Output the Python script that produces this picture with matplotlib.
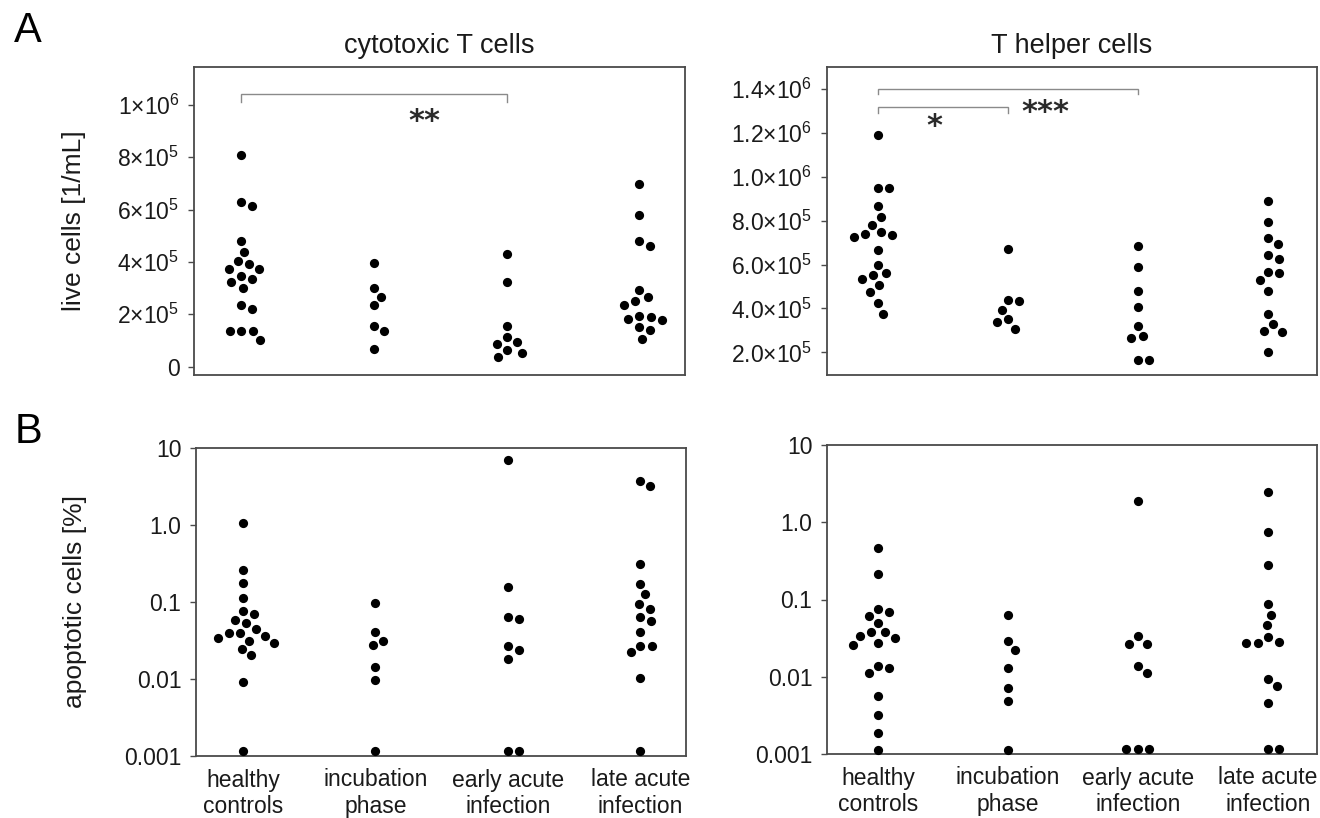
import numpy as np
import matplotlib
matplotlib.use("Agg")
import matplotlib.pyplot as plt

plt.rcParams['font.family'] = ['Liberation Sans', 'DejaVu Sans']
plt.rcParams['mathtext.default'] = 'regular'

# ---------------- data ----------------
categories = ['healthy\ncontrols', 'incubation\nphase', 'early acute\ninfection', 'late acute\ninfection']

# A: live cells [1/mL] (values x 1e6)
cyto_live_healthy = [0.809, 0.615, 0.631, 0.481, 0.439, 0.404, 0.373, 0.373, 0.394, 0.345,
                     0.322, 0.302, 0.336, 0.219, 0.236, 0.136, 0.102, 0.136, 0.136]
cyto_live_incub = [0.396, 0.267, 0.300, 0.235, 0.136, 0.156, 0.069]
cyto_live_early = [0.431, 0.325, 0.157, 0.093, 0.086, 0.113, 0.053, 0.038, 0.064]
cyto_live_late = [0.697, 0.580, 0.461, 0.479, 0.293, 0.266, 0.235, 0.252, 0.194, 0.183,
                  0.178, 0.191, 0.150, 0.140, 0.107]

th_live_healthy = [1.192, 0.950, 0.950, 0.868, 0.817, 0.782, 0.733, 0.727, 0.741, 0.747,
                   0.666, 0.599, 0.563, 0.551, 0.536, 0.505, 0.473, 0.423, 0.375]
th_live_incub = [0.672, 0.435, 0.438, 0.394, 0.338, 0.351, 0.308]
th_live_early = [0.685, 0.589, 0.479, 0.408, 0.321, 0.273, 0.267, 0.165, 0.165]
th_live_late = [0.888, 0.795, 0.722, 0.694, 0.625, 0.643, 0.563, 0.566, 0.530, 0.479,
                0.375, 0.329, 0.297, 0.294, 0.200]

# B: apoptotic cells [%]
cyto_apo_healthy = [1.05, 0.262, 0.176, 0.112, 0.0753, 0.0695, 0.0587, 0.0531, 0.0452, 0.0394,
                    0.0345, 0.0297, 0.0316, 0.0363, 0.0394, 0.0244, 0.0204, 0.00916, 0.00116]
cyto_apo_incub = [0.0957, 0.0406, 0.0316, 0.028, 0.0145, 0.0098, 0.00116]
cyto_apo_early = [7.06, 0.158, 0.060, 0.0637, 0.0239, 0.0267, 0.0182, 0.00115, 0.00115]
cyto_apo_late = [3.18, 3.73, 0.308, 0.173, 0.127, 0.0949, 0.0817, 0.063, 0.057, 0.0409,
                 0.0267, 0.0271, 0.0225, 0.0104, 0.00116]

th_apo_healthy = [0.464, 0.216, 0.0683, 0.0753, 0.0617, 0.0497, 0.0383, 0.0376, 0.0321, 0.0337,
                  0.0276, 0.0258, 0.0136, 0.0131, 0.0111, 0.00564, 0.00317, 0.00185, 0.00113]
th_apo_incub = [0.0636, 0.0293, 0.0222, 0.01285, 0.00714, 0.0049, 0.00113]
th_apo_early = [1.90, 0.0337, 0.0268, 0.0268, 0.01377, 0.0111, 0.00115, 0.00115, 0.00115]
th_apo_late = [2.46, 0.741, 0.283, 0.0883, 0.0636, 0.0463, 0.0274, 0.0274, 0.0284, 0.0324,
               0.00944, 0.00759, 0.00457, 0.00115, 0.00115]

live_scale = 1e6

yticks_cyto_live = [0, 2e5, 4e5, 6e5, 8e5, 1e6]
yticklabels_cyto_live = ['0', r'$2{\times}10^{5}$', r'$4{\times}10^{5}$', r'$6{\times}10^{5}$',
                         r'$8{\times}10^{5}$', r'$1{\times}10^{6}$']
yticks_th_live = [2e5, 4e5, 6e5, 8e5, 1e6, 1.2e6, 1.4e6]
yticklabels_th_live = [r'$2.0{\times}10^{5}$', r'$4.0{\times}10^{5}$', r'$6.0{\times}10^{5}$',
                       r'$8.0{\times}10^{5}$', r'$1.0{\times}10^{6}$', r'$1.2{\times}10^{6}$',
                       r'$1.4{\times}10^{6}$']
yticks_apo = [0.001, 0.01, 0.1, 1, 10]
yticklabels_apo = ['0.001', '0.01', '0.1', '1.0', '10']

# ---------------- figure ----------------
W, H = 1320, 818
fig = plt.figure(figsize=(W / 100, H / 100), dpi=100)

def add_ax(l, t, r, b):
    return fig.add_axes([l / W, 1 - b / H, (r - l) / W, (b - t) / H])

axA1 = add_ax(194, 67, 685, 375)
axA2 = add_ax(827, 67, 1317, 375)
axB1 = add_ax(196, 448, 686, 756)
axB2 = add_ax(827, 445, 1317, 754)

TXT = '#1a1a1a'
FRAME = '#4a4a4a'
DOT_D = 11.5  # collision distance in px


def style(ax):
    for s in ax.spines.values():
        s.set_color(FRAME)
        s.set_linewidth(1.3)
    ax.tick_params(axis='y', length=4, width=1, color=FRAME, pad=6.5,
                   labelsize=16.5, labelcolor=TXT)
    ax.tick_params(axis='x', length=0, pad=9, labelsize=16.5, labelcolor=TXT)
    ax.tick_params(axis='y', which='minor', length=0)


def swarm(ax, xc, values, d_px):
    pts = ax.transData.transform(np.column_stack([np.full(len(values), xc, dtype=float),
                                                  np.asarray(values, dtype=float)]))
    ys = pts[:, 1]
    order = np.argsort(-ys, kind='stable')
    placed = []
    offs = np.zeros(len(values))
    for i in order:
        y = ys[i]
        neigh = [(px, py) for px, py in placed if abs(py - y) < d_px]
        cands = [0.0]
        for px, py in neigh:
            dx = np.sqrt(max(d_px ** 2 - (py - y) ** 2, 0))
            cands += [px + dx, px - dx]
        cands = sorted(cands, key=lambda c: (round(abs(c), 6), -c))
        chosen = cands[-1]
        for c in cands:
            if all((c - px) ** 2 + (y - py) ** 2 >= d_px ** 2 - 1e-6 for px, py in neigh):
                chosen = c
                break
        offs[i] = chosen
        placed.append((chosen, y))
    x0, x1 = ax.get_xlim()
    ppu = ax.bbox.width / (x1 - x0)
    return xc + offs / ppu


def draw_groups(ax, groups, scale=1.0):
    for k, vals in enumerate(groups):
        v = np.asarray(vals, dtype=float) * scale
        xs = swarm(ax, k, v, DOT_D)
        ax.scatter(xs, v, s=44, color='black', linewidths=0, zorder=3, clip_on=False)


def bracket(ax, x0, x1, ytop, yleg):
    ax.plot([x0, x0, x1, x1], [yleg, ytop, ytop, yleg], color='#8a8a8a', lw=1.0,
            solid_joinstyle='miter', zorder=2)


STAR = dict(ha='center', va='baseline', fontsize=22, color='#2a2a2a',
            family='DejaVu Sans', fontweight='bold')

# --- A left
ax = axA1
ax.set_xlim(-0.355, 3.345)
ax.set_ylim(-0.032e6, 1.145e6)
style(ax)
ax.set_yticks(yticks_cyto_live)
ax.set_yticklabels(yticklabels_cyto_live)
ax.set_xticks([])
draw_groups(ax, [cyto_live_healthy, cyto_live_incub, cyto_live_early, cyto_live_late], live_scale)
bracket(ax, 0, 2, 1.041e6, 1.01e6)
ax.text(1.38, 0.905e6, '**', **STAR)

# --- A right
ax = axA2
ax.set_xlim(-0.392, 3.377)
ax.set_ylim(0.097e6, 1.5e6)
style(ax)
ax.set_yticks(yticks_th_live)
ax.set_yticklabels(yticklabels_th_live)
ax.set_xticks([])
draw_groups(ax, [th_live_healthy, th_live_incub, th_live_early, th_live_late], live_scale)
bracket(ax, 0, 2, 1.4e6, 1.376e6)
bracket(ax, 0, 1, 1.319e6, 1.292e6)
ax.text(0.43, 1.19e6, '*', **STAR)
ax.text(1.29, 1.255e6, '***', **STAR)

# --- B panels
for ax, groups, xl in [(axB1, [cyto_apo_healthy, cyto_apo_incub, cyto_apo_early, cyto_apo_late], (-0.355, 3.345)),
                       (axB2, [th_apo_healthy, th_apo_incub, th_apo_early, th_apo_late], (-0.392, 3.377))]:
    ax.set_yscale('log')
    ax.set_xlim(*xl)
    ax.set_ylim(0.001, 10)
    style(ax)
    ax.set_yticks(yticks_apo)
    ax.set_yticklabels(yticklabels_apo)
    ax.yaxis.set_minor_locator(matplotlib.ticker.NullLocator())
    ax.set_xticks(range(len(categories)))
    ax.set_xticklabels(categories, linespacing=1.2)
    draw_groups(ax, groups)

# --- texts
fig.text(28 / W, 1 - 42 / H, 'A', fontsize=30, ha='center', va='baseline', color='black')
fig.text(28 / W, 1 - 443 / H, 'B', fontsize=30, ha='center', va='baseline', color='black')

for ax, title in [(axA1, 'cytotoxic T cells'), (axA2, 'T helper cells')]:
    bb = ax.get_position()
    fig.text((bb.x0 + bb.x1) / 2, 1 - 53 / H, title, fontsize=19.5, ha='center',
             va='baseline', color=TXT)

fig.text(74 / W, 1 - 221 / H, 'live cells [1/mL]', rotation=90, fontsize=19,
         ha='center', va='center', color=TXT)
fig.text(75 / W, 1 - 602 / H, 'apoptotic cells [%]', rotation=90, fontsize=19,
         ha='center', va='center', color=TXT)

fig.savefig('out.png', dpi=100, facecolor='white')
